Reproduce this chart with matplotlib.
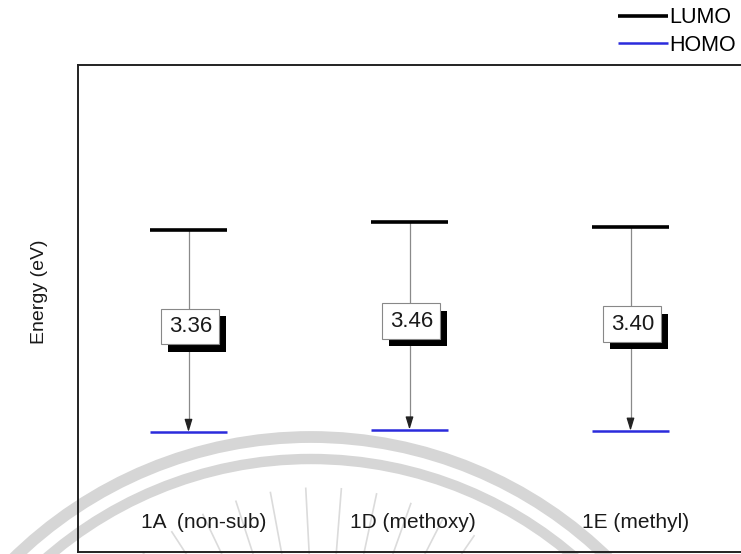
import numpy as np
import matplotlib
matplotlib.use("Agg")
import matplotlib.pyplot as plt
from matplotlib.patches import Arc
from matplotlib import patheffects

plt.rcParams['font.family'] = ['Liberation Sans', 'DejaVu Sans']

# Frontier orbital energies (eV) and the HOMO-LUMO gaps
compounds = ["1A  (non-sub)", "1D (methoxy)", "1E (methyl)"]
homo = [-5.62, -5.58, -5.60]
gap = [3.36, 3.46, 3.40]
lumo = [h + g for h, g in zip(homo, gap)]
gap_labels = ["3.36", "3.46", "3.40"]

W, H, DPI = 741, 554, 100
fig = plt.figure(figsize=(W / DPI, H / DPI), dpi=DPI, facecolor="white")

# faint seal in the background
bg = fig.add_axes([0, 0, 1, 1], zorder=0)
bg.set_xlim(0, W)
bg.set_ylim(H, 0)
bg.axis("off")
seal_c = (311, 862)
for r, lw in [(425, 8.5), (403, 7.5)]:
    bg.add_patch(Arc(seal_c, 2 * r, 2 * r, theta1=180, theta2=360,
                     color="#cfcfcf", lw=lw, alpha=0.85))
ray_c = (320, 760)
for a in np.linspace(-48, 42, 13):
    t = np.deg2rad(a)
    r0, r1 = 200, 272
    bg.plot([ray_c[0] + r0 * np.sin(t), ray_c[0] + r1 * np.sin(t)],
            [ray_c[1] - r0 * np.cos(t), ray_c[1] - r1 * np.cos(t)],
            color="#d2d2d2", lw=1.2, alpha=0.8)

ax = fig.add_axes([78 / W, 2 / H, 1 - 78 / W, 487 / H], zorder=1)
ax.set_facecolor("none")
ax.set_xlim(0.5, 3.5)
ax.set_ylim(-7.62, 0.497)
ax.set_xticks([])
ax.set_yticks([])
for s in ["left", "top", "bottom"]:
    ax.spines[s].set_linewidth(1.4)
    ax.spines[s].set_color("#222222")
ax.spines["right"].set_visible(False)

x = np.arange(1, len(compounds) + 1)
hw = 0.176
blue = "#2b2bdc"
for i, xi in enumerate(x):
    ax.plot([xi - hw, xi + hw], [lumo[i], lumo[i]], color="black", lw=2.6,
            solid_capstyle="butt", label="LUMO" if i == 0 else None, zorder=4)
    ax.plot([xi - hw, xi + hw], [homo[i], homo[i]], color=blue, lw=1.8,
            solid_capstyle="butt", label="HOMO" if i == 0 else None, zorder=4)
    # transition line with arrowhead
    ax.plot([xi, xi], [lumo[i], homo[i] + 0.1], color="#8a8a8a", lw=0.9, zorder=2)
    ax.annotate("", xy=(xi, homo[i]), xytext=(xi, homo[i] + 0.2),
                arrowprops=dict(arrowstyle="-|>,head_length=0.42,head_width=0.13",
                                color="#222222", lw=0.9, mutation_scale=18,
                                shrinkA=0, shrinkB=0), zorder=3)
    # gap label in a box with a drop shadow
    ym = (homo[i] + lumo[i]) / 2 + 0.08
    t = ax.text(xi + 0.008, ym, gap_labels[i], ha="center", va="center",
                fontsize=16, color="#1a1a1a", zorder=6,
                bbox=dict(boxstyle="square,pad=0.33", fc="white", ec="#888888", lw=0.8))
    t.get_bbox_patch().set_path_effects([
        patheffects.SimplePatchShadow(offset=(5, -5.5), shadow_rgbFace="black", alpha=1.0),
        patheffects.Normal(),
    ])

name_shift = [0.07, 0.016, 0.025]
for xi, name, dx in zip(x, compounds, name_shift):
    ax.text(xi + dx, 0.06, name, transform=ax.get_xaxis_transform(),
            ha="center", va="center", fontsize=15, color="#1a1a1a")

fig.text(40 / W, 1 - 292 / H, "Energy (eV)", rotation=90, ha="center",
         va="center", fontsize=14, color="#1a1a1a")

fig.legend(loc="upper right", bbox_to_anchor=(0.998, 0.993), frameon=False,
           fontsize=15.5, handlelength=2.3, handletextpad=0.1,
           labelspacing=0.32, borderpad=0.15, borderaxespad=0.0)

fig.savefig("out.png", dpi=DPI, facecolor="white")
